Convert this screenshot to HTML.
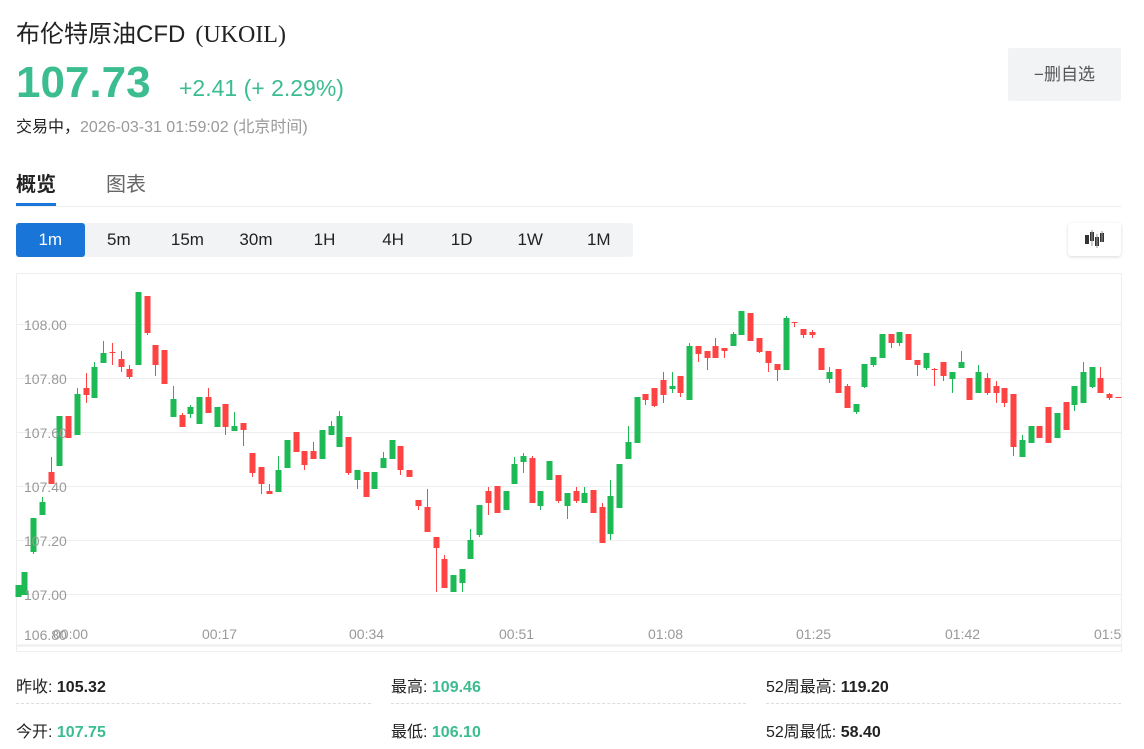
<!DOCTYPE html>
<html><head><meta charset="utf-8">
<style>
*{margin:0;padding:0;box-sizing:border-box}
body{width:1144px;height:749px;background:#fff;font-family:"Liberation Sans","Noto Sans CJK SC",sans-serif;position:relative;overflow:hidden;color:#222}
.a{position:absolute;white-space:nowrap}
.tabs{position:absolute;left:16px;top:223px;width:617px;height:34px;background:#f2f3f5;border-radius:3px;display:flex}
.tabs div{flex:1;text-align:center;line-height:34px;font-size:17px;color:#222}
.tabs .on{background:#1a75d8;color:#fff;border-radius:3px}
.f{font-size:16px;color:#222}
.f b{font-weight:bold}
.g{color:#3bbd8f}
.dl{position:absolute;top:703px;height:0;border-top:1px dashed #ddd}
</style></head><body>
<div class="a" style="left:16px;top:14px;font-size:24px;color:#222">布伦特原油CFD<span style="font-family:'Liberation Serif',serif;margin-left:10px">(UKOIL)</span></div>
<div class="a" style="left:16px;top:58px;font-size:44px;font-weight:bold;color:#3bbd8f">107.73</div>
<div class="a" style="left:179px;top:75px;font-size:23px;color:#3bbd8f">+2.41 (+ 2.29%)</div>
<div class="a" style="left:16px;top:113px;font-size:16px;color:#222">交易中，<span style="color:#999">2026-03-31 01:59:02 (北京时间)</span></div>
<div class="a" style="left:1008px;top:48px;width:113px;height:53px;background:#f2f3f5;border-radius:2px;text-align:center;line-height:53px;font-size:17px;color:#555">−删自选</div>
<div class="a" style="left:16px;top:168px;font-size:20px;font-weight:bold;color:#222">概览</div>
<div class="a" style="left:106px;top:168px;font-size:20px;color:#666">图表</div>
<div class="a" style="left:16px;top:203px;width:40px;height:3px;background:#1a75d8"></div>
<div class="a" style="left:16px;top:206px;width:1105px;height:1px;background:#eee"></div>
<div class="tabs"><div class="on">1m</div><div>5m</div><div>15m</div><div>30m</div><div>1H</div><div>4H</div><div>1D</div><div>1W</div><div>1M</div></div>
<div class="a" style="left:1068px;top:223px;width:53px;height:33px;background:#fff;border-radius:3px;box-shadow:0 1px 3px rgba(0,0,0,.15)">
<svg width="53" height="33"><g fill="#333"><rect x="17" y="12" width="4" height="9"/><rect x="22" y="9" width="4" height="9"/><rect x="27" y="14" width="4" height="9"/><rect x="32" y="10" width="4" height="9"/></g><g stroke="#999" stroke-width="1"><line x1="24" y1="7" x2="24" y2="23"/><line x1="29" y1="11" x2="29" y2="25"/><line x1="34" y1="8" x2="34" y2="19"/></g></svg></div>
<svg class="a" style="left:0;top:0" width="1144" height="749" id="ch">
<rect x="16.5" y="273.5" width="1105" height="378" fill="none" stroke="#eee"/>
<line x1="17" y1="645.5" x2="1121" y2="645.5" stroke="#eee" stroke-width="2"/>
<g stroke="#eee" stroke-width="1">
<line x1="17" y1="324.5" x2="1121" y2="324.5"/><line x1="17" y1="378.5" x2="1121" y2="378.5"/><line x1="17" y1="432.5" x2="1121" y2="432.5"/><line x1="17" y1="486.5" x2="1121" y2="486.5"/><line x1="17" y1="540.5" x2="1121" y2="540.5"/><line x1="17" y1="594.5" x2="1121" y2="594.5"/>
</g>
<g id="cd"></g>
<g font-family="Liberation Sans,sans-serif" font-size="14" fill="#999">
<text x="24" y="330">108.00</text><text x="24" y="384">107.80</text><text x="24" y="438">107.60</text><text x="24" y="492">107.40</text><text x="24" y="546">107.20</text><text x="24" y="600">107.00</text><text x="24" y="640">106.80</text>
<text x="53" y="639">00:00</text><text x="202" y="639">00:17</text><text x="349" y="639">00:34</text><text x="499" y="639">00:51</text><text x="648" y="639">01:08</text><text x="796" y="639">01:25</text><text x="945" y="639">01:42</text><text x="1094" y="639">01:5</text>
</g>
</svg>
<div class="a f" style="left:16px;top:673px">昨收: <b>105.32</b></div>
<div class="a f" style="left:391px;top:673px">最高: <b class="g">109.46</b></div>
<div class="a f" style="left:766px;top:673px">52周最高: <b>119.20</b></div>
<div class="dl" style="left:16px;width:355px"></div>
<div class="dl" style="left:391px;width:355px"></div>
<div class="dl" style="left:766px;width:355px"></div>
<div class="a f" style="left:16px;top:718px">今开: <b class="g">107.75</b></div>
<div class="a f" style="left:391px;top:718px">最低: <b class="g">106.10</b></div>
<div class="a f" style="left:766px;top:718px">52周最低: <b>58.40</b></div>
<script>
var D=[[18,585,597,585,597,1],[24,572,595,572,595,1],[33,518,552,518,554,1],[42,502,515,497,515,1],[51,472,484,457,484,0],[59,416,466,416,466,1],[68,416,438,416,438,0],[77,394,435,388,435,1],[86,388,395,373,403,0],[94,367,398,362,398,1],[103,353,363,341,363,1],[112,352,353,343,365,0],[121,359,367,351,372,0],[129,369,377,365,379,0],[138,292,365,292,365,1],[147,296,333,296,335,0],[155,345,365,345,376,0],[164,350,384,350,384,0],[173,399,417,386,417,1],[182,415,427,413,427,0],[190,407,414,405,418,1],[199,397,424,397,424,1],[208,397,413,388,413,0],[217,407,427,407,427,1],[225,404,427,404,435,0],[234,426,431,412,431,1],[243,423,430,423,446,0],[252,453,473,453,477,0],[261,467,484,467,494,0],[269,491,494,484,494,0],[278,470,492,456,492,1],[287,440,468,440,468,1],[296,432,452,432,452,0],[304,451,465,451,470,0],[313,451,459,442,459,0],[322,430,459,430,459,1],[331,426,435,421,435,1],[339,416,447,411,447,1],[348,437,473,437,475,0],[357,470,480,470,489,1],[366,472,497,472,497,0],[374,472,489,472,489,1],[383,458,468,452,468,1],[392,440,459,440,459,1],[400,446,470,446,475,0],[409,470,477,470,477,0],[418,500,506,500,510,0],[427,507,532,489,532,0],[436,537,548,537,592,0],[444,559,588,555,588,0],[453,575,592,575,592,1],[462,569,583,569,592,1],[470,540,559,529,559,1],[479,505,535,505,537,1],[488,491,503,487,515,0],[497,486,513,486,513,0],[506,491,510,491,510,1],[514,464,484,457,484,1],[523,456,462,453,473,1],[532,458,503,456,503,0],[540,491,506,491,510,1],[549,461,480,461,480,1],[558,475,501,475,503,0],[567,493,506,493,519,1],[576,491,501,487,503,0],[584,493,503,487,503,1],[593,490,513,490,513,0],[602,507,543,503,543,0],[610,496,534,480,540,1],[619,464,508,464,508,1],[628,442,459,426,459,1],[637,397,443,397,443,1],[645,394,400,394,405,0],[654,388,406,388,407,0],[663,380,395,372,403,0],[672,386,389,372,393,1],[680,376,393,376,397,0],[689,346,400,343,400,1],[698,346,354,346,362,0],[707,351,358,351,370,0],[715,346,358,338,358,0],[724,348,351,348,358,0],[733,334,346,332,346,1],[741,311,335,311,335,1],[750,313,341,313,341,0],[759,338,352,338,353,0],[768,351,363,351,372,0],[777,364,370,364,381,0],[786,318,370,316,370,1],[794,322,323,322,327,0],[803,329,335,329,338,0],[812,332,335,330,338,0],[821,348,370,348,370,0],[829,372,379,367,383,1],[838,369,393,369,393,0],[847,386,408,384,408,0],[856,404,412,404,414,1],[864,364,387,364,388,1],[873,357,365,357,367,1],[882,334,358,334,358,1],[891,334,343,334,348,0],[899,332,343,332,346,1],[908,334,360,334,360,0],[917,360,365,360,376,0],[926,353,368,353,370,1],[934,369,370,368,386,0],[943,362,376,362,381,0],[952,372,379,372,393,1],[961,362,368,351,368,1],[969,378,400,378,400,0],[978,372,393,365,393,1],[987,378,393,373,395,0],[996,386,393,381,403,0],[1004,388,403,388,407,0],[1013,394,447,394,456,0],[1022,440,457,435,457,1],[1031,426,443,426,443,1],[1039,426,438,426,438,0],[1048,407,443,407,443,0],[1057,413,438,413,438,1],[1066,402,430,402,430,0],[1074,386,405,386,411,1],[1083,372,403,362,403,1],[1092,367,387,367,388,1],[1100,378,393,367,393,0],[1109,394,398,393,400,0],[1118,397,398,397,398,0]];
var s='';D.forEach(function(d){var c=d[5]?'#1db954':'#ff4343';s+='<line x1="'+(d[0]+.5)+'" y1="'+d[3]+'" x2="'+(d[0]+.5)+'" y2="'+d[4]+'" stroke="'+c+'"/><rect x="'+(d[0]-2.5)+'" y="'+d[1]+'" width="6" height="'+Math.max(1,d[2]-d[1])+'" fill="'+c+'"/>';});
document.getElementById('cd').innerHTML=s;
</script>
</body></html>
